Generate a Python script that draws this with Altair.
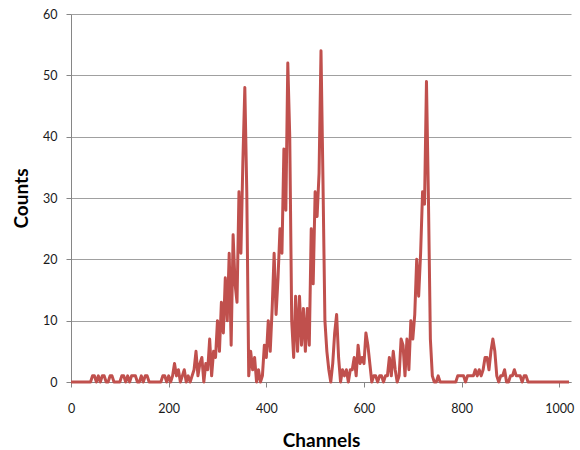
import pandas as pd
import altair as alt

# Counts, one value every 4 channels
counts_000 = [0,0,0,0,0,0,0,0,0,0,0,1,1,0,1,0,1,1,0,0,1,1,0,0,0]
counts_100 = [0,1,1,0,1,0,1,1,1,0,0,1,0,1,1,0,0,0,0,0,0,0,1,1,0]
counts_200 = [1,0,1,3,1,2,0,1,2,0,1,0,1,2,5,1,3,4,0,3,2,7,1,5,4]
counts_300 = [10,5,13,8,17,10,21,6,24,16,13,31,21,36,48,31,1,5,2,4,0,2,0,1,6]
counts_400 = [4,10,5,12,21,11,17,25,21,38,28,52,40,10,4,14,5,14,6,12,5,12,6,25,16]
counts_500 = [31,27,34,54,33,10,5,2,0,3,8,11,4,0,2,1,2,0,2,2,4,1,6,3,4]
counts_600 = [3,8,6,3,0,1,1,0,1,1,0,1,1,4,1,5,2,0,1,7,6,1,7,2,10]
counts_700 = [7,11,20,14,21,31,29,49,30,7,1,0,0,1,0,0,0,0,0,0,0,0,0,1,1]
counts_800 = [1,1,0,1,1,1,1,2,1,2,1,2,4,4,2,5,7,5,1,0,1,1,2,0,0]
counts_900 = [1,1,2,1,1,1,0,1,1,0,0,0,0,0,0,0,0,0,0,0,0,0,0,0,0]
counts_1000 = [0,0,0,0,0,0]

counts = (counts_000 + counts_100 + counts_200 + counts_300 + counts_400 +
          counts_500 + counts_600 + counts_700 + counts_800 + counts_900 + counts_1000)
channels = list(range(0, 4 * len(counts), 4))

x_ticks = [0, 200, 400, 600, 800, 1000]
y_ticks = [0, 10, 20, 30, 40, 50, 60]

df = pd.DataFrame({"Channel": channels, "Counts": counts})

FONT = "Lato"

chart = alt.Chart(df).mark_line(
    color="#C0504D", strokeWidth=3, strokeJoin="round"
).encode(
    x=alt.X("Channel:Q",
            scale=alt.Scale(domain=[0, 1024], nice=False, zero=True),
            axis=alt.Axis(values=x_ticks, title="Channels", grid=False, format="d",
                          domainColor="#868686", tickColor="#868686", tickSize=5,
                          labelFont=FONT, labelFontSize=12.5, labelColor="#1a1a1a",
                          labelPadding=15, labelFlush=False,
                          titleFont=FONT, titleFontSize=19, titleFontWeight="bold",
                          titleColor="#000000", titleY=64, titleBaseline="alphabetic")),
    y=alt.Y("Counts:Q",
            scale=alt.Scale(domain=[0, 60], nice=False),
            axis=alt.Axis(values=y_ticks, title="Counts", grid=True,
                          gridColor="#a0a0a0", gridWidth=1,
                          domainColor="#868686", tickColor="#868686", tickSize=5,
                          labelFont=FONT, labelFontSize=12.5, labelColor="#1a1a1a",
                          labelPadding=9,
                          titleFont=FONT, titleFontSize=19, titleFontWeight="bold",
                          titleColor="#000000", titleX=-44, titleY=184,
                          titleAngle=270, titleAlign="center", titleBaseline="alphabetic")),
).properties(
    width=500, height=368,
    padding={"left": 71, "top": 14, "right": 9, "bottom": 68},
    autosize=alt.AutoSizeParams(type="none"),
    background="white",
).configure_view(strokeWidth=0)

chart.save("out.html", embed_options={"renderer": "svg", "actions": False})
